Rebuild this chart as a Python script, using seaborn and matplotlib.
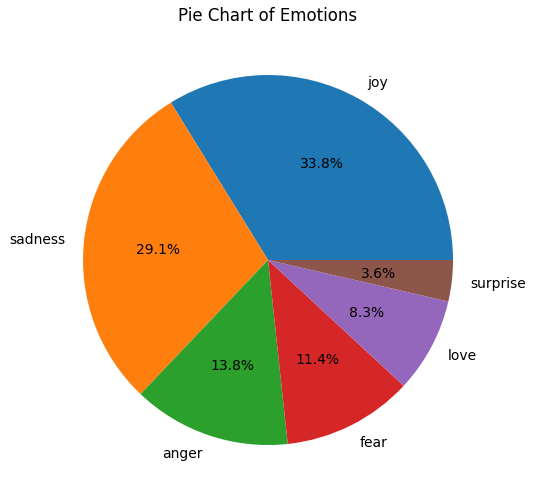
import matplotlib
matplotlib.use("Agg")
import matplotlib.pyplot as plt
import seaborn as sns

# emotion shares (percent)
emotions = ["joy", "sadness", "anger", "fear", "love", "surprise"]
shares = [33.8, 29.1, 13.8, 11.4, 8.3, 3.6]

palette = sns.color_palette("tab10", len(emotions))

fig = plt.figure(figsize=(5.36, 5.02), dpi=100)
ax = fig.add_axes([0.0686, 0.0194, 0.8629, 0.9213])
ax.pie(shares, labels=emotions, autopct="%1.1f%%", colors=palette)
ax.set_title("Pie Chart of Emotions")

fig.savefig("out.png", dpi=100)
